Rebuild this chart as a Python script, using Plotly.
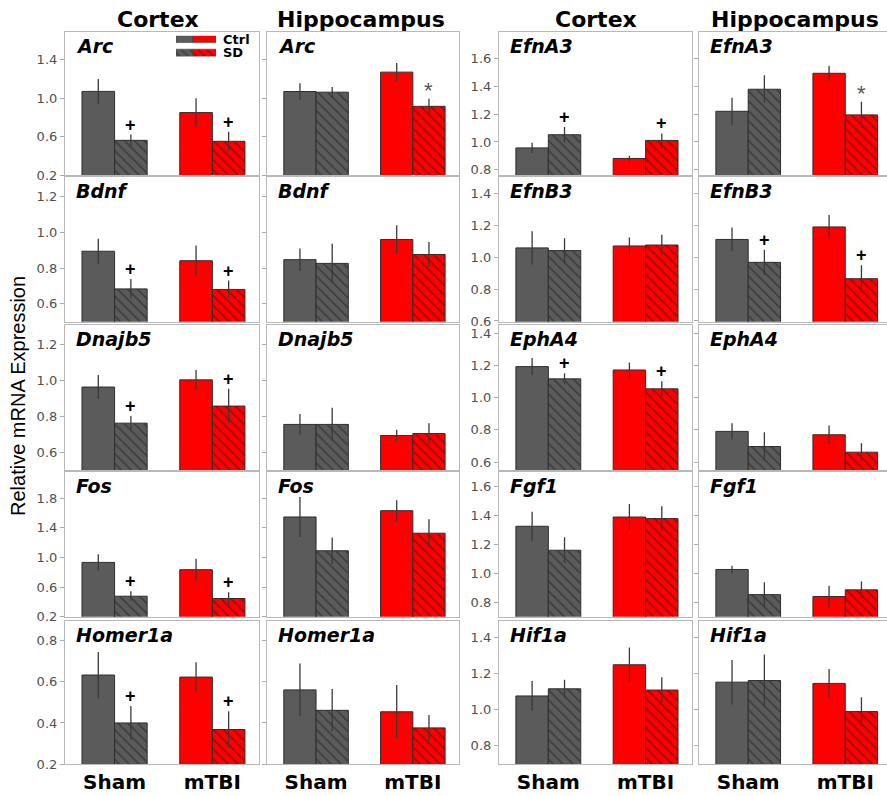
import plotly.graph_objects as go

# ---------------- data ----------------
genes = ["Arc", "Bdnf", "Dnajb5", "Fos", "Homer1a",
         "EfnA3", "EfnB3", "EphA4", "Fgf1", "Hif1a"]
groups = ["Sham", "mTBI"]
region_titles = ["Cortex", "Hippocampus"]

# Cortex means
ctx_ctrl_sham = [1.07, 0.895, 0.963, 0.933, 0.632, 0.957, 1.060, 1.193, 1.326, 1.074]
ctx_sd_sham   = [0.562, 0.684, 0.762, 0.477, 0.400, 1.052, 1.043, 1.117, 1.160, 1.114]
ctx_ctrl_mtbi = [0.850, 0.842, 1.003, 0.835, 0.622, 0.881, 1.072, 1.172, 1.390, 1.248]
ctx_sd_mtbi   = [0.552, 0.681, 0.857, 0.446, 0.368, 1.011, 1.078, 1.055, 1.379, 1.107]
# Hippocampus means
hip_ctrl_sham = [1.069, 0.848, 0.755, 1.546, 0.560, 1.221, 1.113, 0.791, 1.027, 1.151]
hip_sd_sham   = [1.062, 0.827, 0.755, 1.090, 0.461, 1.380, 0.969, 0.697, 0.853, 1.160]
hip_ctrl_mtbi = [1.270, 0.961, 0.693, 1.631, 0.454, 1.495, 1.192, 0.770, 0.840, 1.144]
hip_sd_mtbi   = [0.915, 0.877, 0.704, 1.327, 0.376, 1.195, 0.866, 0.662, 0.886, 0.987]

# Cortex errors
ctx_ctrl_sham_err = [0.130, 0.070, 0.067, 0.110, 0.112, 0.037, 0.105, 0.053, 0.100, 0.083]
ctx_sd_sham_err   = [0.060, 0.055, 0.040, 0.067, 0.082, 0.055, 0.078, 0.034, 0.090, 0.050]
ctx_ctrl_mtbi_err = [0.150, 0.085, 0.055, 0.148, 0.072, 0.020, 0.053, 0.047, 0.090, 0.097]
ctx_sd_mtbi_err   = [0.100, 0.050, 0.096, 0.083, 0.088, 0.050, 0.065, 0.047, 0.085, 0.072]
# Hippocampus errors
hip_ctrl_sham_err = [0.085, 0.063, 0.058, 0.270, 0.128, 0.097, 0.075, 0.050, 0.026, 0.124]
hip_sd_sham_err   = [0.055, 0.110, 0.093, 0.180, 0.103, 0.100, 0.080, 0.088, 0.086, 0.145]
hip_ctrl_mtbi_err = [0.095, 0.080, 0.032, 0.142, 0.130, 0.055, 0.075, 0.058, 0.074, 0.080]
hip_sd_mtbi_err   = [0.080, 0.070, 0.057, 0.190, 0.063, 0.095, 0.085, 0.056, 0.057, 0.080]

# significance marks on SD bars
ctx_sig_sham = ["+", "+", "+", "+", "+", "+", "", "+", "", ""]
ctx_sig_mtbi = ["+", "+", "+", "+", "+", "+", "", "+", "", ""]
hip_sig_sham = ["", "", "", "", "", "", "+", "", "", ""]
hip_sig_mtbi = ["*", "", "", "", "", "*", "+", "", "", ""]

# y-axis ranges and ticks per gene
y_ranges = [[0.2, 1.69], [0.5, 1.31], [0.5, 1.31], [0.2, 2.15], [0.2, 0.895],
            [0.76, 1.795], [0.595, 1.505], [0.55, 1.453], [0.70, 1.70], [0.693, 1.494]]
y_ticks = [[0.2, 0.6, 1.0, 1.4], [0.6, 0.8, 1.0, 1.2], [0.6, 0.8, 1.0, 1.2],
           [0.2, 0.6, 1.0, 1.4, 1.8], [0.2, 0.4, 0.6, 0.8],
           [0.8, 1.0, 1.2, 1.4, 1.6], [0.6, 0.8, 1.0, 1.2, 1.4], [0.6, 0.8, 1.0, 1.2, 1.4],
           [0.8, 1.0, 1.2, 1.4, 1.6], [0.8, 1.0, 1.2, 1.4]]

# ---------------- layout helpers ----------------
W, H = 887, 796
col_px = [(65, 259), (267, 459), (499, 692), (699, 887)]
row_px = [(32, 177), (179, 325), (328, 475), (477, 623), (627, 772)]
x_full = [-0.507, 1.477]
x_clip = [-0.507, 1.430]

def fx(p):
    return p / W

def fy(p):
    return 1 - p / H

GRAY = "#5b5b5b"
RED = "#ff0000"
bar_colors = [GRAY, RED]
FONT = "DejaVu Sans, Liberation Sans, Arial, sans-serif"
FONT_Y = "Liberation Sans, Arial, sans-serif"
LINE_C = "#b8b8b8"
BAR_W = 1 / 3

region_data = [
    (ctx_ctrl_sham, ctx_ctrl_mtbi, ctx_sd_sham, ctx_sd_mtbi,
     ctx_ctrl_sham_err, ctx_ctrl_mtbi_err, ctx_sd_sham_err, ctx_sd_mtbi_err,
     ctx_sig_sham, ctx_sig_mtbi),
    (hip_ctrl_sham, hip_ctrl_mtbi, hip_sd_sham, hip_sd_mtbi,
     hip_ctrl_sham_err, hip_ctrl_mtbi_err, hip_sd_sham_err, hip_sd_mtbi_err,
     hip_sig_sham, hip_sig_mtbi),
]

fig = go.Figure()
layout = {}
annotations = []

k = 0
for g, gene in enumerate(genes):
    row = g % 5
    pair = g // 5
    for r in range(2):
        k += 1
        col = pair * 2 + r
        xa = "x" if k == 1 else f"x{k}"
        ya = "y" if k == 1 else f"y{k}"
        (c_s, c_m, s_s, s_m, ce_s, ce_m, se_s, se_m, sig_s, sig_m) = region_data[r]
        ctrl = [c_s[g], c_m[g]]
        sd = [s_s[g], s_m[g]]
        ctrl_err = [ce_s[g], ce_m[g]]
        sd_err = [se_s[g], se_m[g]]
        sig = [sig_s[g], sig_m[g]]

        for i, grp in enumerate(groups):
            colr = bar_colors[i]
            fig.add_trace(go.Bar(
                x=[grp], y=[ctrl[i]], xaxis=xa, yaxis=ya, name="Ctrl", showlegend=False,
                offset=-BAR_W, width=BAR_W,
                marker=dict(color=colr, line=dict(color="#2e2e2e", width=1)),
                error_y=dict(type="data", array=[ctrl_err[i]], color="#3a3a3a",
                             thickness=1.3, width=0),
            ))
            fig.add_trace(go.Bar(
                x=[grp], y=[sd[i]], xaxis=xa, yaxis=ya, name="SD", showlegend=False,
                offset=0, width=BAR_W,
                marker=dict(color=colr, line=dict(color="#2e2e2e", width=1),
                            pattern=dict(shape="\\", fgcolor="#141414", bgcolor=colr,
                                         size=7, solidity=0.2, fillmode="overlay")),
                error_y=dict(type="data", array=[sd_err[i]], color="#3a3a3a",
                             thickness=1.3, width=0),
            ))

        x0, x1 = col_px[col]
        y0, y1 = row_px[row]
        key_x = "xaxis" if k == 1 else f"xaxis{k}"
        key_y = "yaxis" if k == 1 else f"yaxis{k}"
        last_col = (col == 3)
        layout[key_x] = dict(
            domain=[fx(x0), fx(x1)], anchor=ya, type="category",
            categoryorder="array", categoryarray=groups,
            range=x_clip if last_col else x_full,
            showline=True, mirror=True, linecolor=LINE_C, linewidth=1.2,
            showgrid=False, zeroline=False, ticks="",
            showticklabels=(row == 4),
            tickfont=dict(family=FONT, size=20, color="black", weight="bold"),
        )
        layout[key_y] = dict(
            domain=[fy(y1), fy(y0)], anchor=xa,
            range=y_ranges[g], tickvals=y_ticks[g], tickformat=".1f",
            showline=True, mirror=(not last_col), linecolor=LINE_C, linewidth=1.2,
            showgrid=False, zeroline=False, ticks="outside", ticklen=4,
            tickcolor="#aaaaaa", tickwidth=1,
            showticklabels=(r == 0),
            tickfont=dict(family=FONT, size=13, color="#505050"),
        )

        # gene label
        annotations.append(dict(
            x=fx(x0 + 9), y=fy(y0 + 1), xref="paper", yref="paper",
            xanchor="left", yanchor="top", showarrow=False,
            text=f"<b><i>{gene}</i></b>",
            font=dict(family=FONT, size=19, color="black"),
        ))
        # significance marks
        for i in range(2):
            if sig[i]:
                star = sig[i] == "*"
                annotations.append(dict(
                    x=i + BAR_W / 2, y=sd[i] + sd_err[i], xref=xa, yref=ya,
                    xanchor="center", yanchor="bottom", showarrow=False,
                    text=sig[i] if star else "<b>+</b>",
                    yshift=-6 if star else -2,
                    font=dict(family=FONT_Y, size=22 if star else 18,
                              color="#555555" if star else "black"),
                ))

# column titles
title_x = [158, 361, 596, 795]
for c in range(4):
    annotations.append(dict(
        x=fx(title_x[c]), y=fy(20), xref="paper", yref="paper",
        xanchor="center", yanchor="middle", showarrow=False,
        text=f"<b>{region_titles[c % 2]}</b>",
        font=dict(family=FONT, size=22, color="black"),
    ))

# y-axis title
annotations.append(dict(
    x=fx(18), y=fy(400), xref="paper", yref="paper", textangle=-90,
    xanchor="center", yanchor="middle", showarrow=False,
    text="Relative mRNA Expression",
    font=dict(family=FONT_Y, size=20, color="black"),
))

# legend (custom swatches on a helper axis)
leg_x0, leg_x1, leg_y0, leg_y1 = 176, 216, 36, 57
layout["xaxis21"] = dict(domain=[fx(leg_x0), fx(leg_x1)], range=[0, 40], visible=False,
                         anchor="y21", fixedrange=True)
layout["yaxis21"] = dict(domain=[fy(leg_y1), fy(leg_y0)], range=[0, 21], visible=False,
                         anchor="x21", fixedrange=True)
legend_rows = [("Ctrl", 14, 21, None), ("SD", 0, 7.3, "\\")]
for label, yb, yt, shape in legend_rows:
    for xs, xe, colr in [(0, 17, GRAY), (17, 40, RED)]:
        kw = dict(fillcolor=colr)
        if shape:
            kw["fillpattern"] = dict(shape=shape, fgcolor="#141414", bgcolor=colr,
                                     size=6, solidity=0.2, fillmode="overlay")
        fig.add_trace(go.Scatter(
            x=[xs, xe, xe, xs, xs], y=[yb, yb, yt, yt, yb], xaxis="x21", yaxis="y21",
            mode="lines", fill="toself", line=dict(color="#444444", width=0.6),
            showlegend=False, hoverinfo="skip", **kw,
        ))
    annotations.append(dict(
        x=fx(leg_x1 + 5), y=fy(leg_y1 - (yb + yt) / 2), xref="paper", yref="paper",
        xanchor="left", yanchor="middle", showarrow=False,
        text=f"<b>{label}</b>", font=dict(family=FONT, size=13, color="black"),
    ))

fig.update_layout(
    width=W, height=H, margin=dict(l=0, r=0, t=0, b=0),
    paper_bgcolor="white", plot_bgcolor="white",
    barmode="overlay",
    showlegend=False, annotations=annotations,
    font=dict(family=FONT),
    **layout,
)

fig.write_html("out.html", config={"displayModeBar": False},
               post_script="document.body.style.margin='0';document.body.style.overflow='hidden';")
